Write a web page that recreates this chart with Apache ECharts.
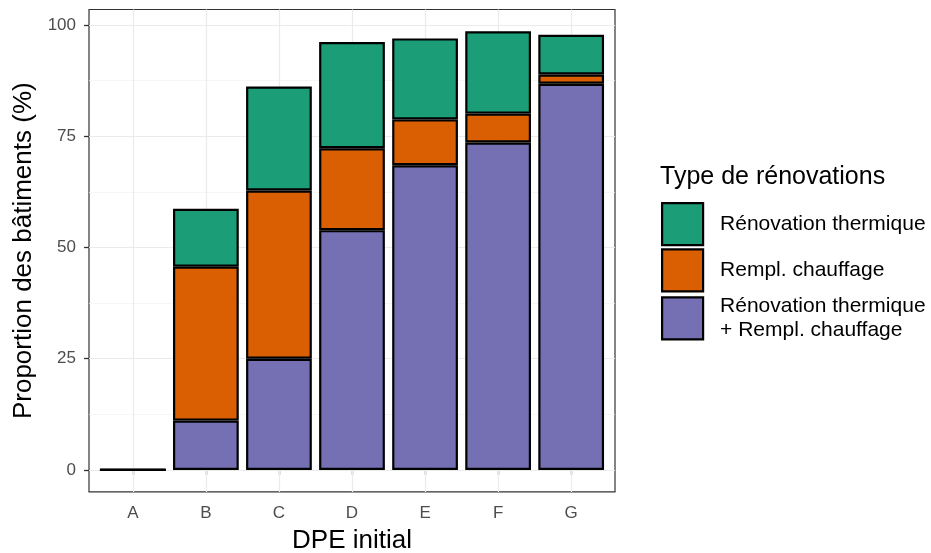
<!DOCTYPE html>
<html>
<head>
<meta charset="utf-8">
<script src="https://cdn.jsdelivr.net/npm/echarts@6/dist/echarts.min.js"></script>
<style>html,body{margin:0;padding:0;background:#fff}#c{width:931px;height:553px}</style>
</head>
<body>
<div id="c"></div>
<script>
const categories = ['A', 'B', 'C', 'D', 'E', 'F', 'G'];
const bothValues = [0, 11.1, 25.0, 53.9, 68.5, 73.6, 86.8];
const chauffageValues = [0, 34.6, 37.8, 18.4, 10.3, 6.5, 2.1];
const thermiqueValues = [0, 13.0, 23.4, 23.9, 18.2, 18.5, 8.9];
const yTicks = [0, 25, 50, 75, 100];
const yMinorTicks = [12.5, 37.5, 62.5, 87.5];
const seriesNames = ['Rénovation thermique + Rempl. chauffage', 'Rempl. chauffage', 'Rénovation thermique'];
const legendLabels = {
  'Rénovation thermique': 'Rénovation thermique',
  'Rempl. chauffage': 'Rempl. chauffage',
  'Rénovation thermique + Rempl. chauffage': 'Rénovation thermique\n+ Rempl. chauffage'
};

const FONT = '"Liberation Sans", Arial, sans-serif';
const gridColor = '#ebebeb';
const Y_MIN = -4.93, Y_MAX = 103.5;

const hLines = [];
yTicks.forEach(v => hLines.push({ yAxis: v, lineStyle: { color: gridColor, width: 1.2, type: 'solid' } }));
yMinorTicks.forEach(v => hLines.push({ yAxis: v, lineStyle: { color: '#f2f2f2', width: 0.7, type: 'solid' } }));
const vLines = categories.map(c => ({ xAxis: c, lineStyle: { color: gridColor, width: 1.2, type: 'solid' } }));

const barStyle = (color) => ({ color: color, borderColor: '#000', borderWidth: 2.2 });

const chart = echarts.init(document.getElementById('c'), null, { renderer: 'canvas' });
chart.setOption({
  animation: false,
  backgroundColor: '#fff',
  textStyle: { fontFamily: FONT },
  title: {
    text: 'Type de rénovations',
    left: 655, top: 160,
    textStyle: { fontFamily: FONT, fontSize: 25, fontWeight: 'normal', color: '#000' }
  },
  legend: {
    orient: 'vertical',
    left: 661, top: 202, padding: 0,
    itemWidth: 41, itemHeight: 42, itemGap: 2,
    icon: 'rect',
    data: ['Rénovation thermique', 'Rempl. chauffage', 'Rénovation thermique + Rempl. chauffage'],
    formatter: n => legendLabels[n],
    itemStyle: { borderColor: '#000', borderWidth: 2.2 },
    textStyle: { fontFamily: FONT, fontSize: 21, color: '#000', lineHeight: 24, padding: [0, 0, 0, 12] },
    selectedMode: false
  },
  grid: [
    { // inner grid: bars on discrete axis
      left: 96.3, right: 323.3, top: 9.5, bottom: 61.1, show: false, containLabel: false, outerBoundsMode: 'none'
    },
    { // full panel
      left: 89, right: 316, top: 9.5, bottom: 61.1, outerBoundsMode: 'none',
      show: true, borderColor: '#333', borderWidth: 1.2, backgroundColor: 'transparent', containLabel: false
    }
  ],
  xAxis: [
    {
      gridIndex: 0,
      type: 'category',
      data: categories,
      boundaryGap: true,
      name: 'DPE initial',
      nameLocation: 'middle',
      nameGap: 36,
      nameTextStyle: { fontFamily: FONT, fontSize: 26, color: '#000' },
      axisLine: { show: false },
      axisTick: { show: true, alignWithLabel: true, length: 5, lineStyle: { color: '#333', width: 1.3 } },
      axisLabel: { fontFamily: FONT, fontSize: 17, color: '#4d4d4d', margin: 13 },
      splitLine: { show: false }
    },
    {
      gridIndex: 1, type: 'value', min: 0, max: 1, show: false
    }
  ],
  yAxis: [
    {
      gridIndex: 0, type: 'value', min: Y_MIN, max: Y_MAX, show: false
    },
    {
      gridIndex: 1,
      type: 'value',
      min: Y_MIN, max: Y_MAX,
      name: 'Proportion des bâtiments (%)',
      nameLocation: 'middle',
      nameGap: 52,
      nameTextStyle: { fontFamily: FONT, fontSize: 26, color: '#000' },
      axisLine: { show: false },
      axisTick: { show: true, customValues: yTicks, length: 5, lineStyle: { color: '#333', width: 1.3 } },
      axisLabel: { customValues: yTicks, fontFamily: FONT, fontSize: 17, color: '#4d4d4d', margin: 13 },
      splitLine: { show: false }
    }
  ],
  series: [
    {
      name: '__grid', type: 'line', xAxisIndex: 1, yAxisIndex: 1, data: [], silent: true,
      markLine: { silent: true, symbol: 'none', z: 1, label: { show: false }, data: hLines, animation: false }
    },
    {
      name: seriesNames[0], type: 'bar', stack: 'total', barWidth: '90%', xAxisIndex: 0, yAxisIndex: 0,
      data: bothValues, itemStyle: barStyle('#7570B3'), z: 3,
      markLine: { silent: true, symbol: 'none', z: 1, label: { show: false }, data: vLines, animation: false }
    },
    { name: seriesNames[1], type: 'bar', stack: 'total', barWidth: '90%', xAxisIndex: 0, yAxisIndex: 0, data: chauffageValues, itemStyle: barStyle('#D95F02'), z: 3 },
    { name: seriesNames[2], type: 'bar', stack: 'total', barWidth: '90%', xAxisIndex: 0, yAxisIndex: 0, data: thermiqueValues, itemStyle: barStyle('#1B9E77'), z: 3 }
  ]
});
</script>
</body>
</html>
